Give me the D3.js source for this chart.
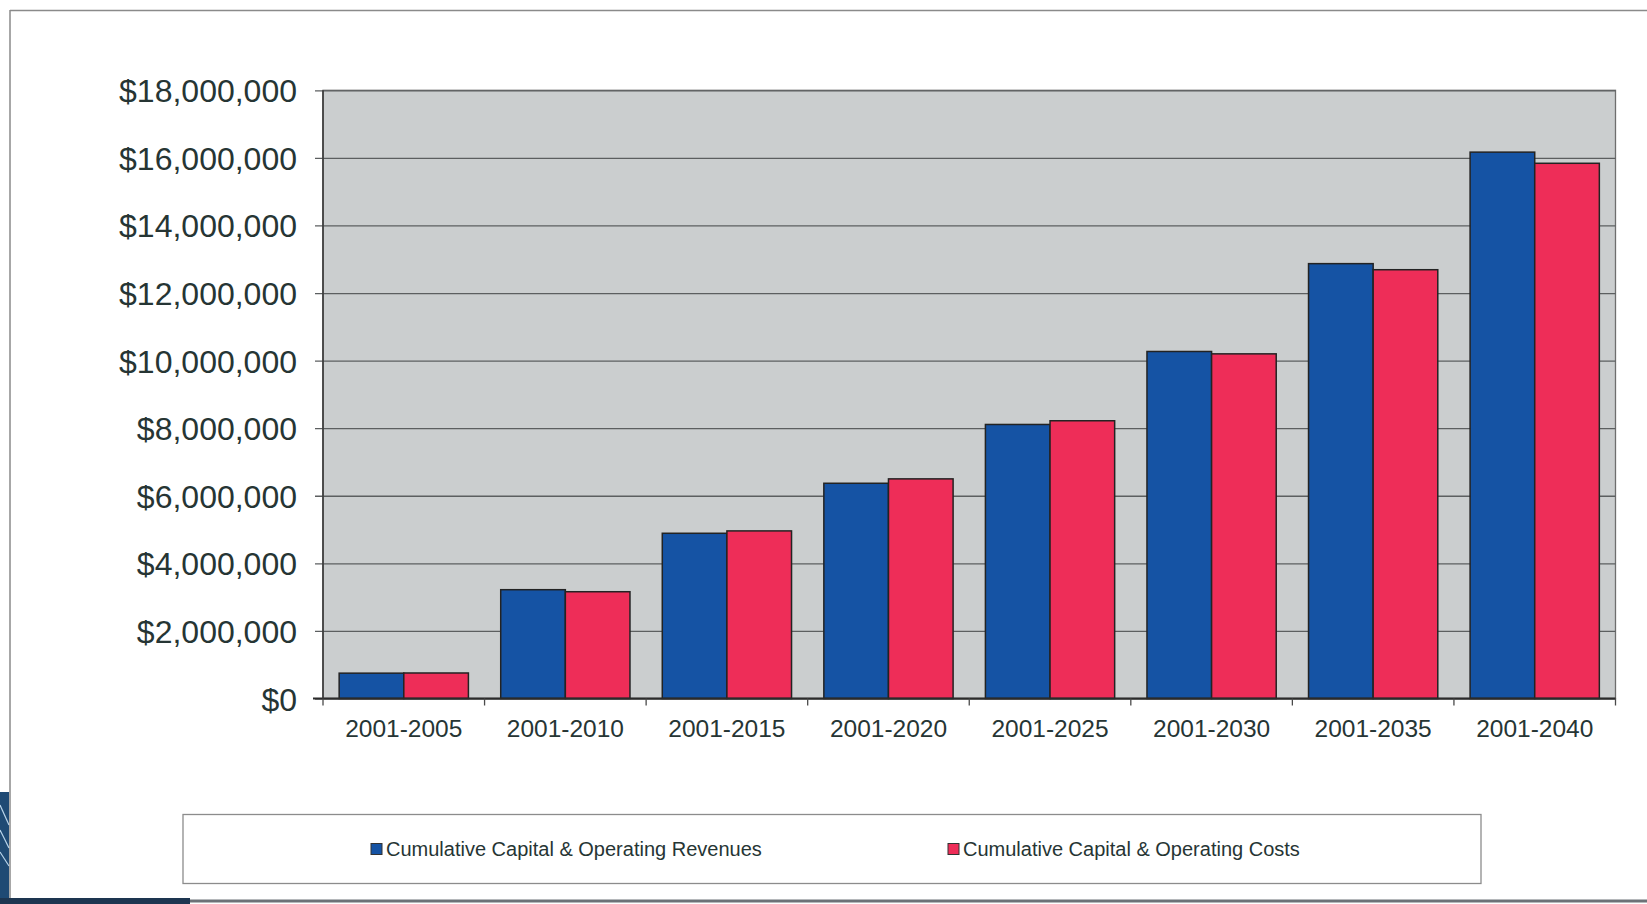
<!DOCTYPE html>
<html>
<head>
<meta charset="utf-8">
<script src="https://cdn.jsdelivr.net/npm/d3@7/dist/d3.min.js"></script>
<style>
  html, body { margin: 0; padding: 0; background: #ffffff; }
  svg { display: block; }
  text { font-family: "Liberation Sans", Arial, Helvetica, sans-serif; }
</style>
</head>
<body>
<svg id="chart" width="1647" height="904"></svg>
<script>
// Periods (cumulative from 2001)
const categories = ["2001-2005", "2001-2010", "2001-2015", "2001-2020",
                    "2001-2025", "2001-2030", "2001-2035", "2001-2040"];

// Cumulative totals in dollars
const revenues = [750000, 3220000, 4890000, 6370000, 8110000, 10270000, 12870000, 16170000];
const costs    = [755000, 3160000, 4960000, 6500000, 8220000, 10200000, 12690000, 15840000];

const seriesNames = ["Cumulative Capital & Operating Revenues", "Cumulative Capital & Operating Costs"];
const seriesColors = ["#1553a4", "#ee2d58"];

// Y axis tick values
const yTickValues = [0, 2000000, 4000000, 6000000, 8000000, 10000000,
                     12000000, 14000000, 16000000, 18000000];

const svg = d3.select("#chart");
const W = 1647, H = 904;

// Plot area
const plot = { left: 323, right: 1615.5, top: 90.3, bottom: 698.5 };

const x0 = d3.scaleBand().domain(categories).range([plot.left, plot.right]).paddingInner(0).paddingOuter(0);
const x1 = d3.scaleBand().domain(d3.range(seriesNames.length)).range([0, x0.bandwidth()])
  .paddingInner(0).paddingOuter(0.25);
const y = d3.scaleLinear().domain([0, 18000000]).range([plot.bottom, plot.top]);

// Outer page frame
svg.append("line").attr("x1", 10).attr("x2", W).attr("y1", 10.5).attr("y2", 10.5)
  .attr("stroke", "#8a8a8a").attr("stroke-width", 1.5);
svg.append("line").attr("x1", 10).attr("x2", 10).attr("y1", 10).attr("y2", 899)
  .attr("stroke", "#8a8a8a").attr("stroke-width", 1.5);
svg.append("line").attr("x1", 0).attr("x2", W).attr("y1", 901).attr("y2", 901)
  .attr("stroke", "#6d7278").attr("stroke-width", 3);

// Slide decoration in the lower-left corner
const deco = svg.append("g");
deco.append("rect").attr("x", 0).attr("y", 792).attr("width", 9).attr("height", 112).attr("fill", "#1f4a74");
[[805, 825], [830, 848], [852, 866]].forEach(([a, b]) => {
  deco.append("line").attr("x1", 0).attr("y1", a).attr("x2", 9).attr("y2", b)
    .attr("stroke", "#b9d4ea").attr("stroke-width", 1.2);
});
deco.append("rect").attr("x", 0).attr("y", 898).attr("width", 190).attr("height", 6).attr("fill", "#1d3550");

// Plot background
svg.append("rect")
  .attr("x", plot.left).attr("y", plot.top)
  .attr("width", plot.right - plot.left).attr("height", plot.bottom - plot.top)
  .attr("fill", "#cbcecf").attr("stroke", "#6e6e6e").attr("stroke-width", 1.3);

// Gridlines with outward ticks
const yAxis = d3.axisLeft(y).tickValues(yTickValues)
  .tickSize(-(plot.right - plot.left + 8)).tickSizeOuter(0)
  .tickFormat(d => "$" + d3.format(",")(d));
const yg = svg.append("g").attr("transform", `translate(${plot.left},0)`).call(yAxis);
yg.select(".domain").remove();
yg.selectAll(".tick line")
  .attr("x1", -8).attr("x2", plot.right - plot.left)
  .attr("stroke", "#5c5f60").attr("stroke-width", 1.3);
yg.selectAll(".tick text")
  .attr("x", -26).attr("dy", "0.36em")
  .attr("fill", "#263534").style("font-size", "32px");

// Bars
const groups = svg.append("g").selectAll("g")
  .data(categories).join("g")
  .attr("transform", d => `translate(${x0(d)},0)`);

groups.selectAll("rect")
  .data((d, i) => [revenues[i], costs[i]].map((v, s) => ({ v, s })))
  .join("rect")
  .attr("x", d => x1(d.s))
  .attr("y", d => y(d.v))
  .attr("width", x1.bandwidth())
  .attr("height", d => y(0) - y(d.v))
  .attr("fill", d => seriesColors[d.s])
  .attr("stroke", "#232323").attr("stroke-width", 1.5);

// X axis
const xAxis = d3.axisBottom(x0).tickSize(0).tickPadding(0);
const xg = svg.append("g").attr("transform", `translate(0,${plot.bottom})`).call(xAxis);
xg.select(".domain").attr("stroke", "#2b2b2b").attr("stroke-width", 2)
  .attr("d", `M${plot.left - 10},0H${plot.right}`);
xg.selectAll(".tick text")
  .attr("y", 38).attr("dy", 0)
  .attr("fill", "#263534").style("font-size", "24.5px");

// Tick marks on category boundaries
const boundaries = categories.map(c => x0(c)).concat([plot.right]);
svg.append("g").selectAll("line").data(boundaries).join("line")
  .attr("x1", d => d).attr("x2", d => d)
  .attr("y1", plot.bottom).attr("y2", plot.bottom + 7)
  .attr("stroke", "#4a4a4a").attr("stroke-width", 1.3);

// Left axis line
svg.append("line").attr("x1", plot.left).attr("x2", plot.left)
  .attr("y1", plot.top).attr("y2", plot.bottom)
  .attr("stroke", "#3a3a3a").attr("stroke-width", 1.6);

// Legend
const legend = svg.append("g");
legend.append("rect").attr("x", 183).attr("y", 814.5).attr("width", 1298).attr("height", 69)
  .attr("fill", "#ffffff").attr("stroke", "#8c8c8c").attr("stroke-width", 1.3);
const legendX = [371, 948];
seriesNames.forEach((name, i) => {
  const g = legend.append("g").attr("transform", `translate(${legendX[i]},849)`);
  g.append("rect").attr("x", 0).attr("y", -5.5).attr("width", 11).attr("height", 11)
    .attr("fill", seriesColors[i]).attr("stroke", "#333").attr("stroke-width", 1);
  g.append("text").attr("x", 15).attr("y", 0).attr("dy", "0.36em")
    .attr("fill", "#263534").style("font-size", "20px").text(name);
});
</script>
</body>
</html>
